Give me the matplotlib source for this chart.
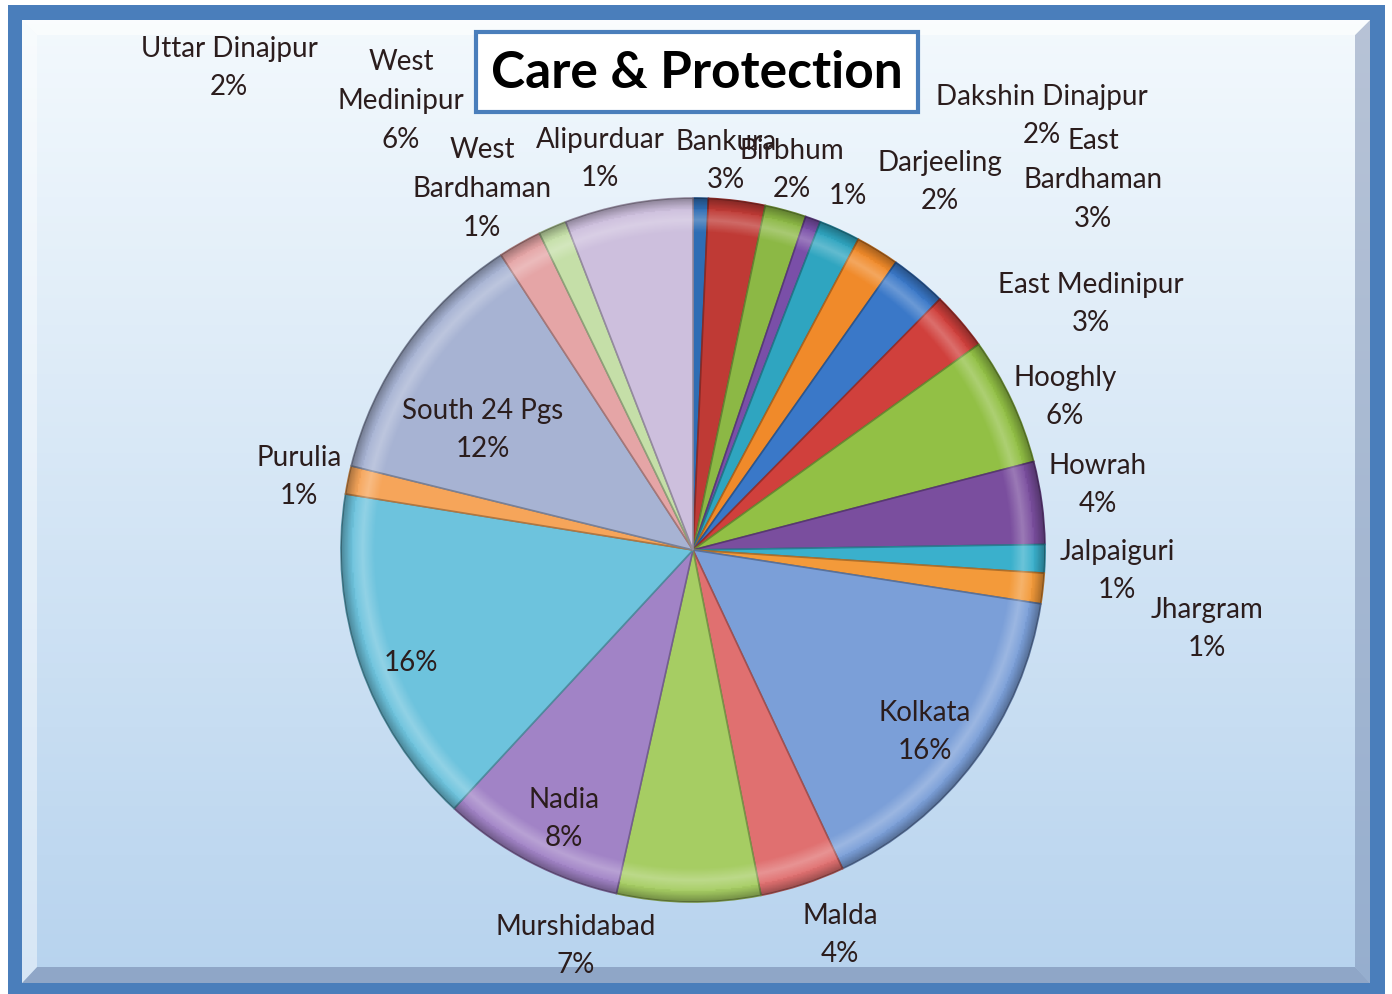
import numpy as np
import matplotlib.pyplot as plt
from matplotlib.patches import Rectangle, Polygon, Circle
from matplotlib.colors import to_rgb

# ===== Data: Care & Protection cases by district (share of total) =====
districts = ["Alipurduar", "Bankura", "Birbhum", "Cooch Behar", "Dakshin Dinajpur",
             "Darjeeling", "East Bardhaman", "East Medinipur", "Hooghly", "Howrah",
             "Jalpaiguri", "Jhargram", "Kolkata", "Malda", "Murshidabad", "Nadia",
             "North 24 Pgs", "Purulia", "South 24 Pgs", "Uttar Dinajpur",
             "West Bardhaman", "West Medinipur"]
share = [0.7, 2.6, 1.9, 0.7, 1.9, 2.0, 2.6, 2.7, 5.9, 3.8, 1.3, 1.4,
         15.6, 3.9, 6.6, 8.4, 15.7, 1.3, 12.0, 2.0, 1.3, 5.9]
# label text as it is broken in the chart; None = name hidden in the original
label_names = ["Alipurduar", "Bankura", "Birbhum", None, "Dakshin Dinajpur",
               "Darjeeling", "East\nBardhaman", "East Medinipur", "Hooghly", "Howrah",
               "Jalpaiguri", "Jhargram", "Kolkata", "Malda", "Murshidabad", "Nadia",
               None, "Purulia", "South 24 Pgs", "Uttar Dinajpur",
               "West\nBardhaman", "West\nMedinipur"]

slice_colors = ["#2e6db4", "#bf3a35", "#8cb845", "#7a4fa8", "#2fa5c0", "#f08a2a",
                "#3a78c8", "#d0403c", "#92c045", "#7a4e9e", "#3ab0cc", "#f39a3a",
                "#7b9fd8", "#e07070", "#a6cd63", "#a183c6", "#6dc3dd", "#f6a55a",
                "#a7b3d3", "#e5a5a6", "#c5dfa8", "#cdbfdd"]

# label block centres (pixels, from top-left) as placed in the original
label_pos = [(600, 159), (726, 161), (792, 170), (848, 196), (1042, 116),
             (940, 182), (1093, 180), (1091, 304), (1065, 397), (1098, 485),
             (1117, 571), (1207, 629), (925, 732), (840, 935), (576, 946),
             (564, 819), (411, 663), (299, 477), (483, 430), (229, 68),
             (482, 189), (401, 101)]

W, H = 1392, 994
fig = plt.figure(figsize=(W / 100, H / 100), dpi=100)
fig.patch.set_facecolor("white")

# ===== Background frame =====
bg = fig.add_axes([0, 0, 1, 1])
bg.set_xlim(0, W)
bg.set_ylim(H, 0)
bg.axis("off")
bg.add_patch(Rectangle((8, 5), 1377, 995, facecolor="#4a7ebb", edgecolor="none"))
top_c = np.array(to_rgb("#f3f9fd"))
bot_c = np.array(to_rgb("#b7d3ee"))
t = np.linspace(0, 1, 256)[:, None]
grad = (top_c * (1 - t) + bot_c * t)[:, None, :]
bg.imshow(grad, extent=[22, 1370, 983, 20], aspect="auto", zorder=1)
# bevel edges
bg.add_patch(Polygon([(22, 983), (1370, 983), (1355, 967), (37, 967)],
                     facecolor="#6f82a8", alpha=0.55, edgecolor="none", zorder=2))
bg.add_patch(Polygon([(1370, 20), (1370, 983), (1355, 967), (1355, 35)],
                     facecolor="#6f82a8", alpha=0.45, edgecolor="none", zorder=2))
bg.add_patch(Polygon([(22, 20), (22, 983), (37, 967), (37, 35)],
                     facecolor="white", alpha=0.45, edgecolor="none", zorder=2))
bg.add_patch(Polygon([(22, 20), (1370, 20), (1355, 35), (37, 35)],
                     facecolor="white", alpha=0.6, edgecolor="none", zorder=2))

# ===== Title box =====
bg.add_patch(Rectangle((476, 32), 442, 80, facecolor="white",
                       edgecolor="#4a7ebb", linewidth=3, zorder=3))
bg.text(697, 74, "Care & Protection", ha="center", va="center",
        fontsize=37, fontweight="bold", family="Lato", color="black", zorder=4)

# ===== Pie =====
cx, cy, r = 693, 550, 352
ax = fig.add_axes([(cx - r) / W, 1 - (cy + r) / H, 2 * r / W, 2 * r / H])
wedges, _ = ax.pie(share, colors=slice_colors, startangle=90, counterclock=False,
                   radius=1, wedgeprops=dict(linewidth=1.2))
ax.set_xlim(-1, 1)
ax.set_ylim(-1, 1)
ax.axis("off")
for w, c in zip(wedges, slice_colors):
    w.set_edgecolor(np.array(to_rgb(c)) * 0.72)

# soft rim shading to hint at the bevelled look
yy, xx = np.mgrid[-1:1:500j, -1:1:500j]
rr = np.sqrt(xx ** 2 + yy ** 2)
shade = np.zeros((500, 500, 4))
hl = np.clip(1 - np.abs(rr - 0.94) / 0.035, 0, 1) * 0.25
dk = np.clip((rr - 0.97) / 0.03, 0, 1) * 0.3
shade[..., :3] = np.where(dk[..., None] > 0, 0.0, 1.0)
shade[..., 3] = hl + dk
im = ax.imshow(shade, extent=[-1, 1, -1, 1], origin="lower", zorder=5)
im.set_clip_path(Circle((0, 0), 1, transform=ax.transData))
ax.set_xlim(-1, 1)
ax.set_ylim(-1, 1)

# ===== Labels =====
total = sum(share)
for name, val, (px, py) in zip(label_names, share, label_pos):
    pct = f"{val / total * 100:.0f}%"
    txt = pct if name is None else f"{name}\n{pct}"
    fig.text(px / W, 1 - py / H, txt, ha="center", va="center", multialignment="center",
             fontsize=20, family="Lato", color="#2b1d1d", linespacing=1.6, zorder=10)

fig.savefig("out.png", dpi=100)
